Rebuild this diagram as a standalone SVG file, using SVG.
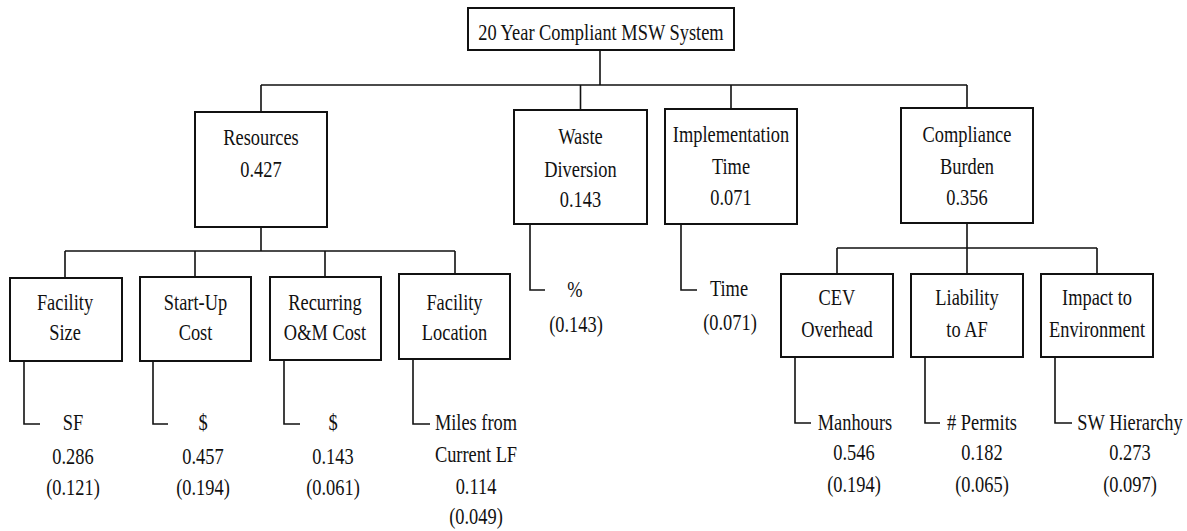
<svg xmlns="http://www.w3.org/2000/svg" width="1187" height="531" viewBox="0 0 1187 531">
<style>
.bx{fill:#fff;stroke:#111;stroke-width:2}
.cn{fill:none;stroke:#111;stroke-width:1.6}
text{font-family:"Liberation Serif","Times New Roman",serif;font-size:23px;fill:#111;text-anchor:middle;transform:scale(0.8,1)}
</style>
<rect width="1187" height="531" fill="#fff"/>
<g id="connectors">
<path class="cn" d="M600,50 V85 M261,85 H967 M261,85 V112 M580.5,85 V110 M731,85 V109 M967,85 V108"/>
<path class="cn" d="M261,227 V251 M65,251 H455 M65,251 V278 M195,251 V277 M325,251 V277 M455,251 V274"/>
<path class="cn" d="M967,223 V248 M837,248 H1097 M837,248 V274 M967,248 V274 M1097,248 V274"/>
<path class="cn" d="M530,224 V290 H545 M681,224 V290 H697"/>
<path class="cn" d="M24,361 V424 H40 M153,361 V424 H168 M284,360 V424 H300 M413,359 V424 H430"/>
<path class="cn" d="M795,357 V423 H811 M925,357 V423 H940 M1055,357 V423 H1072"/>
</g>
<g id="root">
<rect class="bx" x="468" y="8" width="266" height="42"/>
<text x="751.25" y="40">20 Year Compliant MSW System</text>
</g>
<g id="resources">
<rect class="bx" x="195" y="112" width="132" height="115"/>
<text x="326.25" y="145">Resources</text>
<text x="326.25" y="177">0.427</text>
</g>
<g id="waste-diversion">
<rect class="bx" x="514" y="110" width="133" height="114"/>
<text x="725.6" y="144">Waste</text>
<text x="725.6" y="177">Diversion</text>
<text x="725.6" y="207">0.143</text>
</g>
<g id="implementation-time">
<rect class="bx" x="665" y="109" width="132" height="115"/>
<text x="913.75" y="142">Implementation</text>
<text x="913.75" y="174">Time</text>
<text x="913.75" y="205">0.071</text>
</g>
<g id="compliance-burden">
<rect class="bx" x="901" y="108" width="132" height="115"/>
<text x="1208.75" y="142">Compliance</text>
<text x="1208.75" y="174">Burden</text>
<text x="1208.75" y="205">0.356</text>
</g>
<g id="facility-size">
<rect class="bx" x="10" y="278" width="112" height="83"/>
<text x="81.25" y="310">Facility</text>
<text x="81.25" y="340">Size</text>
</g>
<g id="start-up-cost">
<rect class="bx" x="140" y="277" width="111" height="84"/>
<text x="244.4" y="310">Start-Up</text>
<text x="244.4" y="340">Cost</text>
</g>
<g id="recurring-om-cost">
<rect class="bx" x="270" y="277" width="111" height="83"/>
<text x="406.25" y="310">Recurring</text>
<text x="406.25" y="340">O&amp;M Cost</text>
</g>
<g id="facility-location">
<rect class="bx" x="399" y="274" width="111" height="85"/>
<text x="568.1" y="310">Facility</text>
<text x="568.1" y="340">Location</text>
</g>
<g id="cev-overhead">
<rect class="bx" x="781" y="274" width="112" height="83"/>
<text x="1046.25" y="305">CEV</text>
<text x="1046.25" y="337">Overhead</text>
</g>
<g id="liability-to-af">
<rect class="bx" x="911" y="274" width="112" height="83"/>
<text x="1208.75" y="305">Liability</text>
<text x="1208.75" y="337">to AF</text>
</g>
<g id="impact-to-environment">
<rect class="bx" x="1041" y="274" width="112" height="83"/>
<text x="1371.25" y="305">Impact to</text>
<text x="1371.25" y="337">Environment</text>
</g>
<g id="leaf-percent">
<text x="718.75" y="297">%</text>
<text x="720" y="332">(0.143)</text>
</g>
<g id="leaf-time">
<text x="911.25" y="296">Time</text>
<text x="912.5" y="330">(0.071)</text>
</g>
<g id="leaf-sf">
<text x="91.25" y="430">SF</text>
<text x="91.25" y="464">0.286</text>
<text x="91.25" y="495">(0.121)</text>
</g>
<g id="leaf-startup-dollar">
<text x="253.75" y="430">$</text>
<text x="253.75" y="464">0.457</text>
<text x="253.75" y="495">(0.194)</text>
</g>
<g id="leaf-recurring-dollar">
<text x="416.25" y="430">$</text>
<text x="416.25" y="464">0.143</text>
<text x="416.25" y="495">(0.061)</text>
</g>
<g id="leaf-miles">
<text x="595" y="430">Miles from</text>
<text x="595" y="462">Current LF</text>
<text x="595" y="494">0.114</text>
<text x="595" y="524">(0.049)</text>
</g>
<g id="leaf-manhours">
<text x="1068.75" y="430">Manhours</text>
<text x="1067.5" y="460">0.546</text>
<text x="1067.5" y="492">(0.194)</text>
</g>
<g id="leaf-permits">
<text x="1227.5" y="430"># Permits</text>
<text x="1227.5" y="460">0.182</text>
<text x="1227.5" y="492">(0.065)</text>
</g>
<g id="leaf-sw-hierarchy">
<text x="1412.5" y="430">SW Hierarchy</text>
<text x="1412.5" y="460">0.273</text>
<text x="1412.5" y="492">(0.097)</text>
</g>
</svg>
